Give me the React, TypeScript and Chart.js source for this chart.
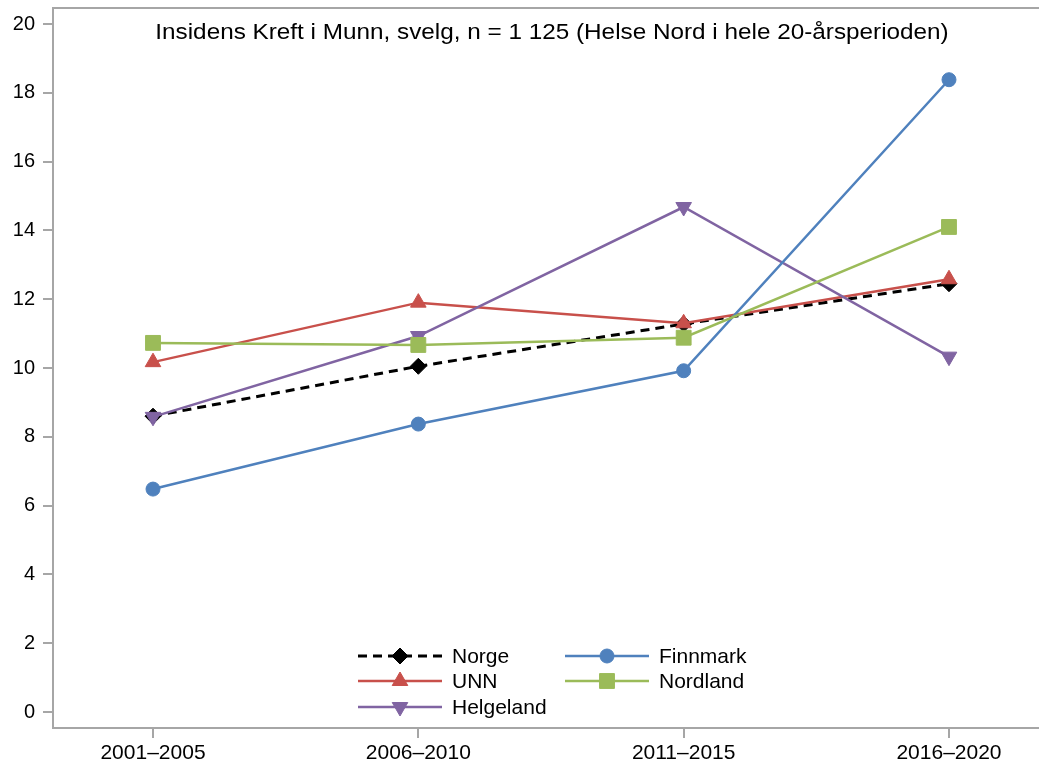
import React, { useEffect, useRef } from "react";
import { Chart, registerables } from "chart.js";
import { drawPoint } from "chart.js/helpers";

Chart.register(...registerables);

const categories = ["2001–2005", "2006–2010", "2011–2015", "2016–2020"];
const yTicks = [0, 2, 4, 6, 8, 10, 12, 14, 16, 18, 20];
const titleText = "Insidens Kreft i Munn, svelg, n = 1 125 (Helse Nord i hele 20-årsperioden)";

const norge = [8.6, 10.05, 11.28, 12.45];
const unn = [10.17, 11.9, 11.3, 12.58];
const helgeland = [8.58, 10.93, 14.68, 10.33];
const finnmark = [6.48, 8.37, 9.92, 18.38];
const nordland = [10.73, 10.67, 10.88, 14.1];

const FONT = "'Liberation Sans', Arial, sans-serif";
const GRAY = "#a6a6a6";

const toXY = (arr: number[]) => arr.map((v, i) => ({ x: i, y: v }));

export default function App() {
  const ref = useRef<HTMLCanvasElement | null>(null);

  useEffect(() => {
    if (!ref.current) return;

    const frame = {
      id: "frame",
      beforeDatasetsDraw(chart: any) {
        const { ctx, chartArea } = chart;
        ctx.save();
        ctx.strokeStyle = GRAY;
        ctx.lineWidth = 2;
        ctx.beginPath();
        ctx.moveTo(chartArea.left, chartArea.top);
        ctx.lineTo(chart.width + 5, chartArea.top);
        ctx.stroke();
        ctx.restore();
      },
      afterDraw(chart: any) {
        const { ctx } = chart;
        ctx.save();
        ctx.fillStyle = "#000";
        ctx.font = `21.5px ${FONT}`;
        ctx.textAlign = "center";
        ctx.textBaseline = "middle";
        ctx.translate(552, 33);
        ctx.scale(1.13, 1);
        ctx.fillText(titleText, 0, 0);
        ctx.restore();

        // legend
        ctx.save();
        const cols = [358, 565];
        const rows = [656, 681, 707];
        const sampleLen = 84;
        chart.data.datasets.forEach((ds: any, i: number) => {
          const col = Math.floor(i / 3);
          const row = i % 3;
          const x0 = cols[col];
          const y = rows[row];
          ctx.save();
          ctx.strokeStyle = ds.borderColor;
          ctx.lineWidth = ds.borderWidth;
          ctx.setLineDash(ds.borderDash || []);
          ctx.beginPath();
          ctx.moveTo(x0, y);
          ctx.lineTo(x0 + sampleLen, y);
          ctx.stroke();
          ctx.setLineDash([]);
          ctx.fillStyle = ds.pointBackgroundColor;
          ctx.strokeStyle = ds.pointBorderColor;
          ctx.lineWidth = 1;
          drawPoint(ctx, {
            pointStyle: ds.pointStyle,
            radius: ds.pointRadius,
            rotation: ds.pointRotation || 0,
            borderWidth: 1,
          } as any, x0 + sampleLen / 2, y);
          ctx.restore();
          ctx.fillStyle = "#000";
          ctx.font = `21px ${FONT}`;
          ctx.textAlign = "left";
          ctx.textBaseline = "middle";
          ctx.fillText(ds.label, x0 + sampleLen + 10, y + 1);
        });
        ctx.restore();
      },
    };

    const mk = (label: string, data: number[], color: string, style: string, radius: number, extra: any = {}) => ({
      label,
      data: toXY(data),
      borderColor: color,
      backgroundColor: color,
      pointBackgroundColor: color,
      pointBorderColor: color,
      borderWidth: 2.5,
      pointStyle: style,
      pointRadius: radius,
      pointBorderWidth: 1,
      tension: 0,
      ...extra,
    });

    const chart = new Chart(ref.current, {
      type: "line",
      data: {
        datasets: [
          mk("Norge", norge, "#000000", "rectRot", 8, { borderDash: [9, 6], borderWidth: 3, order: 10 }),
          mk("UNN", unn, "#c8504b", "triangle", 9, { order: 4 }),
          mk("Helgeland", helgeland, "#8064a2", "triangle", 9, { pointRotation: 180, order: 3 }),
          mk("Finnmark", finnmark, "#4f81bd", "circle", 7, { order: 2 }),
          mk("Nordland", nordland, "#9bbb59", "rect", 10.5, { order: 1 }),
        ] as any,
      },
      options: {
        responsive: false,
        animation: false,
        devicePixelRatio: 1,
        layout: { autoPadding: false, padding: { top: 8, left: 0, right: 0, bottom: 0 } },
        plugins: { legend: { display: false }, tooltip: { enabled: false }, title: { display: false } },
        scales: {
          x: {
            type: "linear",
            min: -100 / 265.33,
            max: (1039 - 153) / 265.33,
            afterFit: (axis: any) => {
              axis.height = 42;
              axis.paddingLeft = 0;
              axis.paddingRight = 0;
              axis.paddingTop = 0;
              axis.paddingBottom = 0;
            },
            afterBuildTicks: (axis: any) => { axis.ticks = categories.map((_, i) => ({ value: i })); },
            grid: { display: true, drawOnChartArea: false, drawTicks: true, tickLength: 10, color: GRAY, lineWidth: 2 },
            border: { display: true, color: GRAY, width: 2 },
            ticks: {
              color: "#000",
              font: { family: FONT, size: 21 },
              padding: 3,
              maxRotation: 0,
              autoSkip: false,
              callback: (v: any) => categories[Math.round(Number(v))] ?? "",
            },
          },
          y: {
            type: "linear",
            min: -16 / 34.4,
            max: (712 - 8) / 34.4,
            afterFit: (axis: any) => {
              axis.width = 53;
              axis.paddingLeft = 0;
              axis.paddingRight = 0;
              axis.paddingTop = 0;
              axis.paddingBottom = 0;
            },
            afterBuildTicks: (axis: any) => { axis.ticks = yTicks.map((v) => ({ value: v })); },
            grid: { display: true, drawOnChartArea: false, drawTicks: true, tickLength: 10, color: GRAY, lineWidth: 2 },
            border: { display: true, color: GRAY, width: 2 },
            ticks: {
              color: "#000",
              font: { family: FONT, size: 20 },
              padding: 8,
              callback: (v: any) => String(v),
            },
          },
        },
      } as any,
      plugins: [frame],
    });

    return () => chart.destroy();
  }, []);

  return (
    <div style={{ position: "absolute", left: 0, top: 0, width: 1039, height: 770, background: "#fff" }}>
      <canvas ref={ref} width={1039} height={770} style={{ display: "block" }} />
    </div>
  );
}
